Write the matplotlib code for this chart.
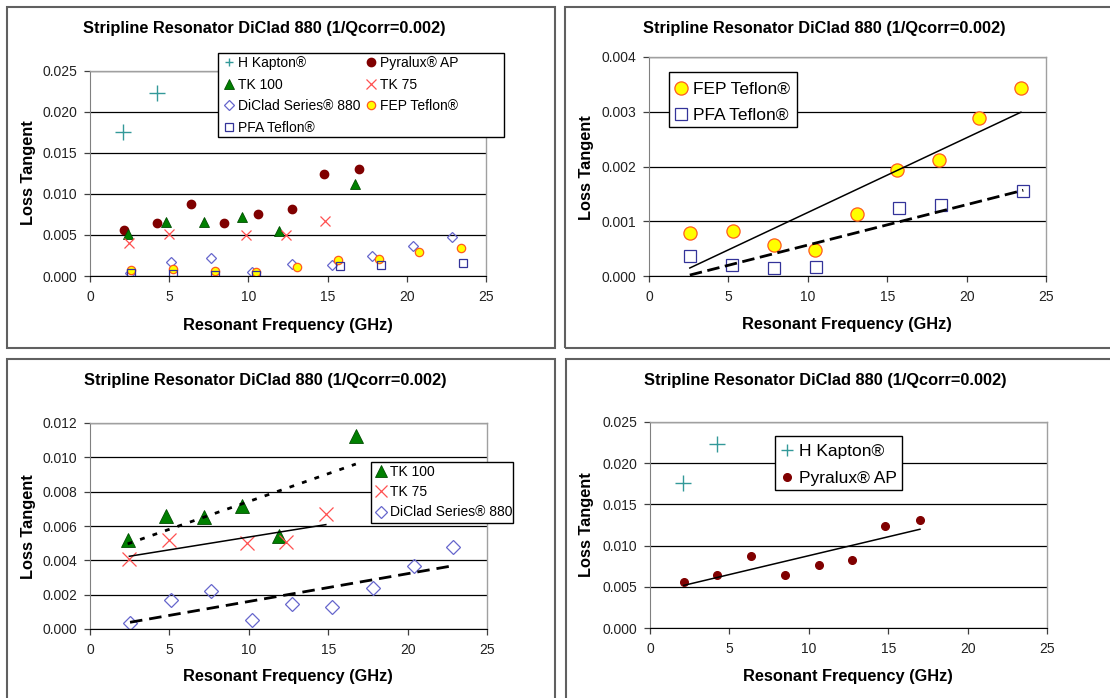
import numpy as np
import matplotlib
matplotlib.use('Agg')
import matplotlib.pyplot as plt
from matplotlib.patches import Rectangle
from matplotlib.lines import Line2D
from matplotlib.ticker import FormatStrFormatter

plt.rcParams['font.family'] = ['Liberation Sans', 'DejaVu Sans']
plt.rcParams['lines.scale_dashes'] = False

W, H = 1110, 698

# values (GHz, loss tangent)
freq_kapton = [2.10, 4.24]
tan_kapton = [0.01759, 0.02233]
freq_pyralux = [2.12, 4.24, 6.39, 8.49, 10.63, 12.73, 14.77, 17.00]
tan_pyralux = [0.00555, 0.00648, 0.00879, 0.00644, 0.00762, 0.00823, 0.01240, 0.01305]
freq_tk100 = [2.37, 4.79, 7.21, 9.58, 11.93, 16.74]
tan_tk100 = [0.00518, 0.00658, 0.00655, 0.00717, 0.00544, 0.01126]
freq_tk75 = [2.48, 4.98, 9.87, 12.35, 14.85]
tan_tk75 = [0.00407, 0.00516, 0.00499, 0.00505, 0.00670]
freq_diclad = [2.52, 5.11, 7.63, 10.23, 12.75, 15.27, 17.79, 20.38, 22.86]
tan_diclad = [0.00037, 0.00168, 0.00222, 0.00051, 0.00148, 0.00131, 0.00238, 0.00366, 0.00479]
freq_fep = [2.57, 5.26, 7.88, 10.45, 13.08, 15.64, 18.27, 20.75, 23.42]
tan_fep = [0.00079, 0.00083, 0.00056, 0.00048, 0.00114, 0.00193, 0.00212, 0.00289, 0.00343]
freq_pfa = [2.57, 5.23, 7.88, 10.49, 15.77, 18.37, 23.57]
tan_pfa = [0.00037, 0.00021, 0.00014, 0.00016, 0.00125, 0.00130, 0.00155]

title = 'Stripline Resonator DiClad 880 (1/Qcorr=0.002)'

# marker styles per material
kapton_st = dict(marker='+', color='#339999', ls='none', mew=1.0)
pyralux_st = dict(marker='o', color='#800000', mec='#800000', ls='none')
tk100_st = dict(marker='^', color='#008000', mec='#004d00', mew=0.6, ls='none')
tk75_st = dict(marker='x', color='#ff5050', ls='none', mew=0.9)
diclad_st = dict(marker='D', mfc='none', mec='#6666cc', mew=0.9, ls='none')
fep_st = dict(marker='o', mfc='#ffff00', mec='#ff5a1f', mew=0.9, ls='none')
pfa_st = dict(marker='s', mfc='none', mec='#333399', mew=0.9, ls='none')


def fx(x):
    return x / W


def fy(y):
    return 1 - y / H


def box(x0, y0, x1, y1, ec, lw):
    fig.patches.append(Rectangle((fx(x0), fy(y1)), (x1 - x0) / W, (y1 - y0) / H,
                                 transform=fig.transFigure, fill=False,
                                 ec=ec, lw=lw, zorder=5))


def make_axes(x0, y0, x1, y1, ymax, ystep):
    ax = fig.add_axes([fx(x0), fy(y1), (x1 - x0) / W, (y1 - y0) / H])
    ax.set_xlim(0, 25)
    ax.set_ylim(0, ymax)
    ax.set_xticks(np.arange(0, 26, 5))
    ax.set_yticks(np.arange(0, ymax + ystep / 2, ystep))
    ax.yaxis.set_major_formatter(FormatStrFormatter('%.3f'))
    ax.set_axisbelow(True)
    ax.yaxis.grid(True, color='black', lw=0.9)
    for s in ['top', 'right']:
        ax.spines[s].set_color('#a0a0a0')
        ax.spines[s].set_linewidth(1.0)
    ax.spines['left'].set_color('#808080')
    ax.spines['bottom'].set_color('black')
    ax.tick_params(axis='both', direction='out', length=4, width=0.9,
                   color='#404040', labelsize=10, labelcolor='#222222')
    ax.tick_params(axis='y', pad=5)
    ax.tick_params(axis='x', pad=6)
    return ax


def labels(cx, ty, lx, ly, bx, by):
    fig.text(fx(cx), fy(ty), title, ha='center', va='center',
             fontsize=11.8, fontweight='bold')
    fig.text(fx(lx), fy(ly), 'Loss Tangent', ha='center', va='center',
             rotation=90, fontsize=11.8, fontweight='bold')
    fig.text(fx(bx), fy(by), 'Resonant Frequency (GHz)', ha='center',
             va='center', fontsize=11.8, fontweight='bold')


def trend(ax, x, y, **kw):
    k, b = np.polyfit(x, y, 1)
    xs = np.array([min(x), max(x)])
    ax.plot(xs, k * xs + b, color='black', **kw)


def legend(ax, entries, frame_px, anchor, fs, spacing, ncol=1, colsp=0.5):
    h = [e[0] for e in entries]
    l = [e[1] for e in entries]
    lg = ax.legend(h, l, loc='upper left', bbox_to_anchor=(fx(anchor[0]), fy(anchor[1])),
                   bbox_transform=fig.transFigure, ncol=ncol, fontsize=fs,
                   frameon=False, borderaxespad=0, borderpad=0,
                   handlelength=0.8, handletextpad=0.3,
                   labelspacing=spacing, columnspacing=colsp, numpoints=1)
    # Excel style legend box, drawn at its own size under the entries
    x0, y0, x1, y1 = frame_px
    ax.add_patch(Rectangle((fx(x0), fy(y1)), (x1 - x0) / W, (y1 - y0) / H,
                           transform=fig.transFigure, fc='white', ec='black',
                           lw=1.0, zorder=4, clip_on=False))
    return lg


fig = plt.figure(figsize=(W / 100, H / 100), dpi=100)

box(7, 7, 555, 348, '#606060', 1.5)
box(565, 7, 1113, 348, '#606060', 1.5)
box(7, 359, 555, 701, '#606060', 1.5)
box(566, 359, 1113, 701, '#606060', 1.5)

# top left: all materials
ax1 = make_axes(90, 71, 486, 276, 0.025, 0.005)
p_kap, = ax1.plot(freq_kapton, tan_kapton, ms=11.5, **kapton_st)
p_pyr, = ax1.plot(freq_pyralux, tan_pyralux, ms=6, **pyralux_st)
p_tk100, = ax1.plot(freq_tk100, tan_tk100, ms=7, **tk100_st)
p_tk75, = ax1.plot(freq_tk75, tan_tk75, ms=6.5, **tk75_st)
p_dic, = ax1.plot(freq_diclad, tan_diclad, ms=5.3, **diclad_st)
p_fep, = ax1.plot(freq_fep, tan_fep, ms=6, **fep_st)
p_pfa, = ax1.plot(freq_pfa, tan_pfa, ms=6, **pfa_st)
kap_small = Line2D([], [], ms=6, **kapton_st)
legend(ax1, [(kap_small, 'H Kapton®'), (p_tk100, 'TK 100'), (p_dic, 'DiClad Series® 880'),
             (p_pfa, 'PFA Teflon®'), (p_pyr, 'Pyralux® AP'), (p_tk75, 'TK 75'),
             (p_fep, 'FEP Teflon®')],
       (218, 53, 504, 137), (223, 56), 10, 0.55, ncol=2, colsp=0.3)
labels(264, 29, 28, 173, 288, 325)

# top right: teflons with linear trendlines
ax2 = make_axes(649, 57, 1046, 276, 0.004, 0.001)
q_fep, = ax2.plot(freq_fep, tan_fep, ms=9.5, **fep_st)
q_pfa, = ax2.plot(freq_pfa, tan_pfa, ms=9, **pfa_st)
trend(ax2, freq_fep, tan_fep, lw=1.1)
trend(ax2, freq_pfa, tan_pfa, lw=2.0, dashes=(9, 4))
legend(ax2, [(q_fep, 'FEP Teflon®'), (q_pfa, 'PFA Teflon®')],
       (669, 72, 797, 127), (674, 82), 12.5, 0.6)
labels(824, 28, 587, 168, 847, 324)

# bottom left: TK and DiClad
ax3 = make_axes(90, 423, 487, 629, 0.012, 0.002)
r_tk100, = ax3.plot(freq_tk100, tan_tk100, ms=10, **tk100_st)
r_tk75, = ax3.plot(freq_tk75, tan_tk75, ms=9.5, **tk75_st)
r_dic, = ax3.plot(freq_diclad, tan_diclad, ms=7, **diclad_st)
trend(ax3, freq_tk100, tan_tk100, lw=2.0, dashes=(3.5, 6))
trend(ax3, freq_tk75, tan_tk75, lw=1.1)
trend(ax3, freq_diclad, tan_diclad, lw=2.0, dashes=(9, 5))
tk100_small = Line2D([], [], ms=8, **tk100_st)
tk75_small = Line2D([], [], ms=8, **tk75_st)
dic_small = Line2D([], [], ms=6, **diclad_st)
legend(ax3, [(tk100_small, 'TK 100'), (tk75_small, 'TK 75'), (dic_small, 'DiClad Series® 880')],
       (371, 462, 513, 523), (375, 465), 10, 0.45)
labels(265, 381, 28, 527, 288, 677)

# bottom right: Kapton and Pyralux
ax4 = make_axes(650, 422, 1047, 628, 0.025, 0.005)
s_kap, = ax4.plot(freq_kapton, tan_kapton, ms=11, **kapton_st)
s_pyr, = ax4.plot(freq_pyralux, tan_pyralux, ms=5.5, **pyralux_st)
trend(ax4, freq_pyralux, tan_pyralux, lw=1.1)
kap_mid = Line2D([], [], ms=8.5, **kapton_st)
legend(ax4, [(kap_mid, 'H Kapton®'), (s_pyr, 'Pyralux® AP')],
       (775, 436, 902, 490), (780, 444), 12.5, 0.65)
labels(825, 380, 587, 525, 848, 676)

fig.savefig('out.png', dpi=100)
